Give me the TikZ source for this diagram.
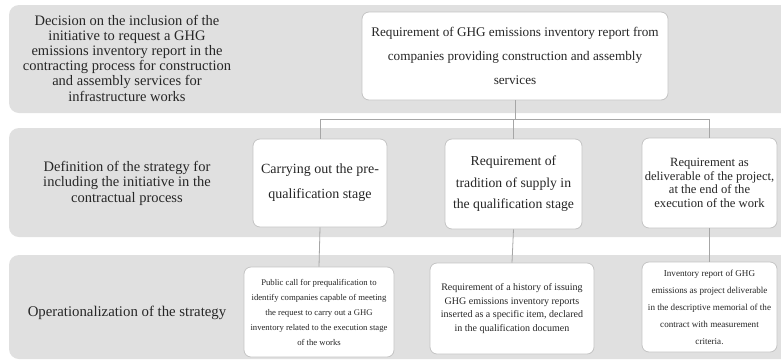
\documentclass[tikz,border=0pt]{standalone}
\usepackage{fontspec}
\setmainfont{Liberation Serif}
\definecolor{bandgray}{HTML}{E0E0E0}
\definecolor{boxline}{HTML}{C4C4C4}
\definecolor{connline}{HTML}{A6A6A6}
\definecolor{txt}{HTML}{262626}
\tikzset{
  band/.style={fill=bandgray, rounded corners=10pt},
  wbox/.style={draw=boxline, line width=0.8pt, fill=white, rounded corners=7pt, inner sep=0pt, align=center, text=txt},
  lbl/.style={inner sep=0pt, align=center, text=txt},
  conn/.style={draw=connline, line width=0.8pt}
}
\begin{document}
\begin{tikzpicture}[x=1pt,y=-1pt]
\useasboundingbox (0,0) rectangle (781,360);
\clip (0,0) rectangle (781,360);
\fill[white] (0,0) rectangle (781,360);
% bands
\fill[band] (9,5) rectangle (800,113);
\fill[band] (9,128) rectangle (800,237);
\fill[band] (9,255) rectangle (800,359);
% band labels
\node[lbl, font={\fontsize{14.5}{15.2}\selectfont}] (l1) at (127,58) {Decision on the inclusion of the\\initiative to request a GHG\\emissions inventory report in the\\contracting process for construction\\and assembly services for\\infrastructure works};
\node[lbl, font={\fontsize{14.5}{15.5}\selectfont}] (l2) at (127,183) {Definition of the strategy for\\including the initiative in the\\contractual process};
\node[lbl, font={\fontsize{14.8}{15}\selectfont}] (l3) at (127,313) {Operationalization of the strategy};
% boxes
\node[wbox, minimum width=306pt, minimum height=88pt, font={\fontsize{13.2}{24}\selectfont}] (top) at (515,56) {Requirement of GHG emissions inventory report from\\companies providing construction and assembly\\services};
\node[wbox, minimum width=134pt, minimum height=88pt, font={\fontsize{14}{25}\selectfont}] (a) at (320,183) {Carrying out the pre-\\qualification stage};
\node[wbox, minimum width=137pt, minimum height=90pt, font={\fontsize{13.7}{21.5}\selectfont}] (b) at (513.5,184) {Requirement of\\tradition of supply in\\the qualification stage};
\node[wbox, minimum width=135pt, minimum height=90pt, font={\fontsize{12.6}{13.5}\selectfont}] (c) at (709.5,183) {Requirement as\\deliverable of the project,\\at the end of the\\execution of the work};
\node[wbox, minimum width=150pt, minimum height=90pt, font={\fontsize{8.7}{15}\selectfont}] (d) at (319,312) {Public call for prequalification to\\identify companies capable of meeting\\the request to carry out a GHG\\inventory related to the execution stage\\of the works};
\node[wbox, minimum width=164pt, minimum height=91pt, font={\fontsize{10}{13.8}\selectfont}] (e) at (512,308.5) {Requirement of a history of issuing\\GHG emissions inventory reports\\inserted as a specific item, declared\\in the qualification documen};
\node[wbox, minimum width=135pt, minimum height=90pt, font={\fontsize{9.1}{17}\selectfont}] (f) at (709.5,307) {Inventory report of GHG\\emissions as project deliverable\\in the descriptive memorial of the\\contract with measurement\\criteria.};
% connectors
\path (top.south) ++(0,19) coordinate (bus);
\draw[conn] (top.south) -- (bus);
\draw[conn] (a.north) |- (bus) -| (c.north);
\draw[conn] (b.north) -- (b.north |- bus);
\draw[conn] (a.south) -- (d.north);
\draw[conn] (b.south) -- (e.north);
\draw[conn] (c.south) -- (f.north);
\end{tikzpicture}
\end{document}
